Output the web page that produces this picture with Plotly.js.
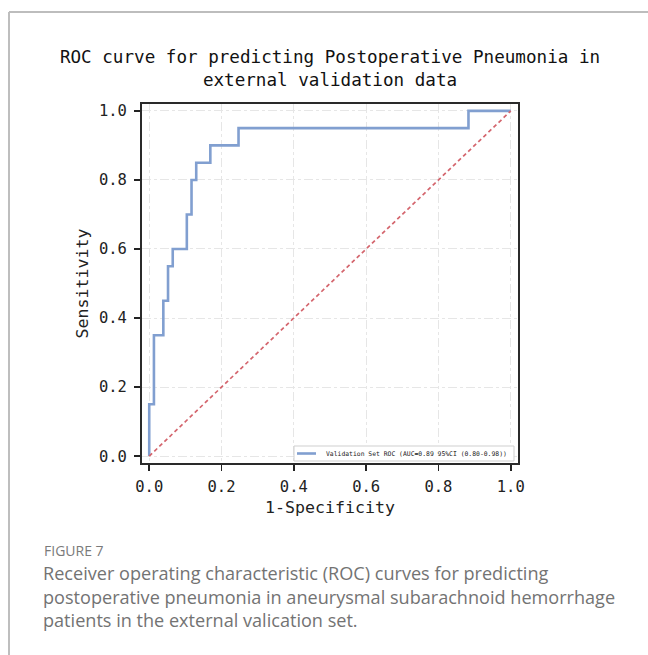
<!DOCTYPE html>
<html>
<head>
<meta charset="utf-8">
<script src="https://cdn.plot.ly/plotly-3.0.1.min.js"></script>
<style>
  html, body { margin: 0; padding: 0; background: #fff; }
  #chart { width: 648px; height: 655px; }
</style>
</head>
<body>
<div id="chart"></div>
<script>
// ROC curve vertices (1-Specificity, Sensitivity)
const fpr = [0.0, 0.0, 0.013, 0.013, 0.039, 0.039, 0.052, 0.052, 0.065, 0.065, 0.104, 0.104, 0.117, 0.117, 0.130, 0.130, 0.169, 0.169, 0.247, 0.247, 0.883, 0.883, 1.0];
const tpr = [0.0, 0.15, 0.15, 0.35, 0.35, 0.45, 0.45, 0.55, 0.55, 0.60, 0.60, 0.70, 0.70, 0.80, 0.80, 0.85, 0.85, 0.90, 0.90, 0.95, 0.95, 1.0, 1.0];
const chanceX = [0, 1];
const chanceY = [0, 1];
const tickVals = [0.0, 0.2, 0.4, 0.6, 0.8, 1.0];
const tickText = ["0.0", "0.2", "0.4", "0.6", "0.8", "1.0"];
const rocName = "Validation Set ROC (AUC=0.89 95%CI (0.80-0.98))";
const titleText = "ROC curve for predicting Postoperative Pneumonia in<br>external validation data";
const xTitle = "1-Specificity";
const yTitle = "Sensitivity";
const figLabel = "FIGURE 7";
const captionText = "Receiver operating characteristic (ROC) curves for predicting<br>postoperative pneumonia in aneurysmal subarachnoid hemorrhage<br>patients in the external valication set.";

const W = 648, H = 655;
const L = 142, R = 518, T = 104, B = 463;
const px2x = p => (p - L) / (R - L);
const px2y = p => (B - p) / (B - T);

const mono = "DejaVu Sans Mono, Liberation Mono, monospace";
const rocColor = "#819fd0";

const traces = [
  {
    x: fpr, y: tpr, type: "scatter", mode: "lines",
    name: rocName, showlegend: false,
    line: { color: rocColor, width: 2.6 },
    hoverinfo: "skip"
  },
  {
    x: chanceX, y: chanceY, type: "scatter", mode: "lines",
    showlegend: false,
    line: { color: "#d4656d", width: 1.7, dash: "4px,3px" },
    hoverinfo: "skip"
  }
];

const axisCommon = {
  range: [-0.02, 1.02],
  tickvals: tickVals, ticktext: tickText,
  ticks: "outside", ticklen: 6, tickwidth: 1.5, tickcolor: "#222",
  showline: true, linecolor: "#2a2a2a", linewidth: 2, mirror: true,
  showgrid: true, gridcolor: "#e6e6e6", gridwidth: 1, griddash: "dashdot",
  zeroline: false,
  tickfont: { family: mono, size: 15.5, color: "#222" },
  fixedrange: true
};

// legend box drawn in pixel positions of the reference
const legX0 = 294, legX1 = 514, legY0 = 446, legY1 = 461;
const legMid = (legY0 + legY1) / 2;

const layout = {
  width: W, height: H,
  paper_bgcolor: "#ffffff", plot_bgcolor: "#ffffff",
  margin: { l: L, r: W - R, t: T, b: H - B, pad: 0 },
  title: {
    text: titleText,
    font: { family: mono, size: 17.6, color: "#111" },
    x: 0.5, xref: "paper", xanchor: "center",
    y: 1 - 63 / H, yref: "container", yanchor: "top"
  },
  xaxis: Object.assign({}, axisCommon, {
    title: { text: xTitle, font: { family: mono, size: 16.6, color: "#222" }, standoff: 7 },
    ticklabelstandoff: 2
  }),
  yaxis: Object.assign({}, axisCommon, {
    title: { text: yTitle, font: { family: mono, size: 16.6, color: "#222" }, standoff: 6 },
    ticklabelstandoff: 4
  }),
  showlegend: false,
  shapes: [
    { type: "line", xref: "paper", yref: "paper",
      x0: px2x(9), x1: px2x(9), y0: px2y(12), y1: px2y(H + 5),
      line: { color: "#a9a9a9", width: 1.5 } },
    { type: "line", xref: "paper", yref: "paper",
      x0: px2x(9), x1: px2x(W + 5), y0: px2y(12), y1: px2y(12),
      line: { color: "#bdbdbd", width: 2 } },
    { type: "rect", xref: "paper", yref: "paper",
      x0: px2x(legX0), x1: px2x(legX1), y0: px2y(legY1), y1: px2y(legY0),
      fillcolor: "#ffffff", line: { color: "#cfcfcf", width: 1 }, layer: "above" },
    { type: "line", xref: "paper", yref: "paper",
      x0: px2x(297), x1: px2x(316), y0: px2y(legMid), y1: px2y(legMid),
      line: { color: rocColor, width: 2.6 }, layer: "above" }
  ],
  annotations: [
    { xref: "paper", yref: "paper", x: px2x(324), y: px2y(legMid),
      xanchor: "left", yanchor: "middle", showarrow: false, align: "left",
      text: rocName, font: { family: mono, size: 6.4, color: "#222" } },
    { xref: "paper", yref: "paper", x: px2x(42), y: px2y(539),
      xanchor: "left", yanchor: "top", showarrow: false, align: "left",
      text: figLabel, font: { family: "Open Sans, Lato, sans-serif", size: 14, color: "#7a7a7a" } },
    { xref: "paper", yref: "paper", x: px2x(41), y: px2y(559),
      xanchor: "left", yanchor: "top", showarrow: false, align: "left",
      text: captionText, font: { family: "Open Sans, Lato, sans-serif", size: 18.1, color: "#737373" } }
  ]
};

Plotly.newPlot("chart", traces, layout, { displayModeBar: false, staticPlot: true });
</script>
</body>
</html>
